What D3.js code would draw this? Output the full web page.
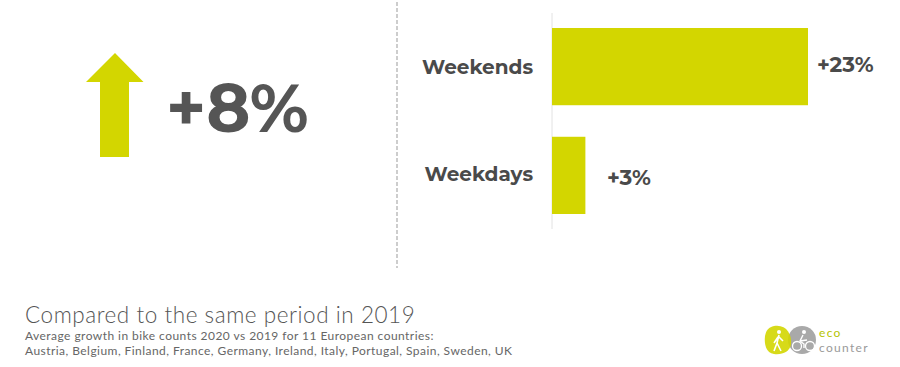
<!DOCTYPE html>
<html>
<head>
<meta charset="utf-8">
<script src="https://cdn.jsdelivr.net/npm/d3@7"></script>
<style>
  html, body { margin: 0; padding: 0; background: #fff; }
  svg { display: block; }
</style>
</head>
<body>
<div id="chart"></div>
<script>
// data
const categories = ['Weekends', 'Weekdays'];
const growth = [23, 3];
const totalGrowth = 8;
const title = 'Compared to the same period in 2019';
const notes = [
  'Average growth in bike counts 2020 vs 2019 for 11 European countries:',
  'Austria, Belgium,  Finland, France, Germany, Ireland, Italy, Portugal, Spain, Sweden, UK'
];

const green = '#d3d600';
const dark = '#4a4a4a';
const width = 900;
const height = 367;

const svg = d3.select('#chart')
  .append('svg')
  .attr('width', width)
  .attr('height', height);

// left part: arrow + total
const arrow = svg.append('g').attr('transform', 'translate(115,53)');
arrow.append('path')
  .attr('d', 'M0,0 L28.5,29 L14,29 L14,104 L-15,104 L-15,29 L-29,29 Z')
  .attr('fill', green);

svg.append('text')
  .attr('x', 166)
  .attr('y', 132)
  .style('font-family', 'Montserrat, "Open Sans", sans-serif')
  .style('font-weight', 700)
  .style('font-size', '67px')
  .attr('fill', '#555')
  .text(`+${totalGrowth}%`);

// separator
svg.append('line')
  .attr('x1', 397).attr('x2', 397)
  .attr('y1', 2).attr('y2', 268)
  .attr('stroke', '#bdbdbd')
  .attr('stroke-width', 1.5)
  .attr('stroke-dasharray', '4,2');

// bar chart
const x = d3.scaleLinear().domain([0, 23]).range([552, 808]);
const y = d3.scaleBand().domain(categories).range([28, 214]).paddingInner(0.29);

svg.append('line')
  .attr('x1', x(0)).attr('x2', x(0))
  .attr('y1', 13).attr('y2', 229)
  .attr('stroke', '#e2e2e2');

svg.selectAll('.bar')
  .data(categories)
  .enter()
  .append('rect')
  .attr('class', 'bar')
  .attr('x', x(0))
  .attr('y', (d) => y(d))
  .attr('width', (d, i) => x(growth[i]) - x(0))
  .attr('height', y.bandwidth())
  .attr('fill', green);

svg.selectAll('.cat')
  .data(categories)
  .enter()
  .append('text')
  .attr('class', 'cat')
  .attr('x', 533)
  .attr('y', (d, i) => y(d) + y.bandwidth() / 2 + (i === 0 ? 7 : 6))
  .attr('text-anchor', 'end')
  .style('font-family', 'Montserrat, "Open Sans", sans-serif')
  .style('font-weight', 700)
  .style('font-size', '20px')
  .attr('fill', dark)
  .text((d) => d);

svg.selectAll('.val')
  .data(categories)
  .enter()
  .append('text')
  .attr('class', 'val')
  .attr('x', (d, i) => Math.max(x(growth[i]) + 9, x(0) + 55))
  .attr('y', (d, i) => y(d) + y.bandwidth() / 2 + (i === 0 ? 5 : 10))
  .style('font-family', 'Montserrat, "Open Sans", sans-serif')
  .style('font-weight', 700)
  .style('font-size', '21.5px')
  .attr('fill', dark)
  .text((d, i) => `+${growth[i]}%`);

// footer
svg.append('text')
  .attr('x', 25)
  .attr('y', 323)
  .style('font-family', 'Lato, sans-serif')
  .style('font-weight', 300)
  .style('font-size', '22.5px')
  .style('letter-spacing', '0.55px')
  .attr('fill', '#555')
  .text(title);

svg.selectAll('.note')
  .data(notes)
  .enter()
  .append('text')
  .attr('class', 'note')
  .attr('x', 25)
  .attr('y', (d, i) => 340 + i * 15)
  .style('font-family', 'Lato, sans-serif')
  .style('font-weight', 400)
  .style('font-size', '12px')
  .style('letter-spacing', '0.45px')
  .attr('fill', '#666')
  .text((d) => d);

// logo
const logo = svg.append('g').attr('transform', 'translate(778,340)');
logo.append('circle').attr('cx', 24).attr('cy', 0).attr('r', 14).attr('fill', '#a9a9a9');
logo.append('path')
  .attr('d', 'M-4,-14 C8,-16 14,-6 13,4 C12,12 4,15 -4,14 C-12,13 -14,4 -13,-4 C-12,-10 -9,-13 -4,-14 Z')
  .attr('fill', green)
  .attr('opacity', 0.9);
// walker
logo.append('circle').attr('cx', 1).attr('cy', -8).attr('r', 2).attr('fill', '#fff');
logo.append('path')
  .attr('d', 'M1,-5 L-1,3 L-4,11 M-1,3 L3,11 M0,-3 L-4,3 M1,-3 L5,1')
  .attr('stroke', '#fff').attr('stroke-width', 1.6).attr('fill', 'none');
// cyclist
logo.append('circle').attr('cx', 26).attr('cy', -8).attr('r', 2).attr('fill', '#fff');
logo.append('circle').attr('cx', 19).attr('cy', 6).attr('r', 4.5).attr('stroke', '#fff').attr('stroke-width', 1.3).attr('fill', 'none');
logo.append('circle').attr('cx', 32).attr('cy', 6).attr('r', 4.5).attr('stroke', '#fff').attr('stroke-width', 1.3).attr('fill', 'none');
logo.append('path')
  .attr('d', 'M25,-5 L22,1 L26,4 L26,8 M22,1 L29,0')
  .attr('stroke', '#fff').attr('stroke-width', 1.4).attr('fill', 'none');

logo.append('text')
  .attr('x', 41).attr('y', -3)
  .style('font-family', 'Lato, sans-serif')
  .style('font-size', '12px')
  .style('letter-spacing', '1.3px')
  .attr('fill', '#b5c400')
  .text('eco');
logo.append('text')
  .attr('x', 41).attr('y', 12)
  .style('font-family', 'Lato, sans-serif')
  .style('font-size', '12px')
  .style('letter-spacing', '1.3px')
  .attr('fill', '#9a9a9a')
  .text('counter');
</script>
</body>
</html>
